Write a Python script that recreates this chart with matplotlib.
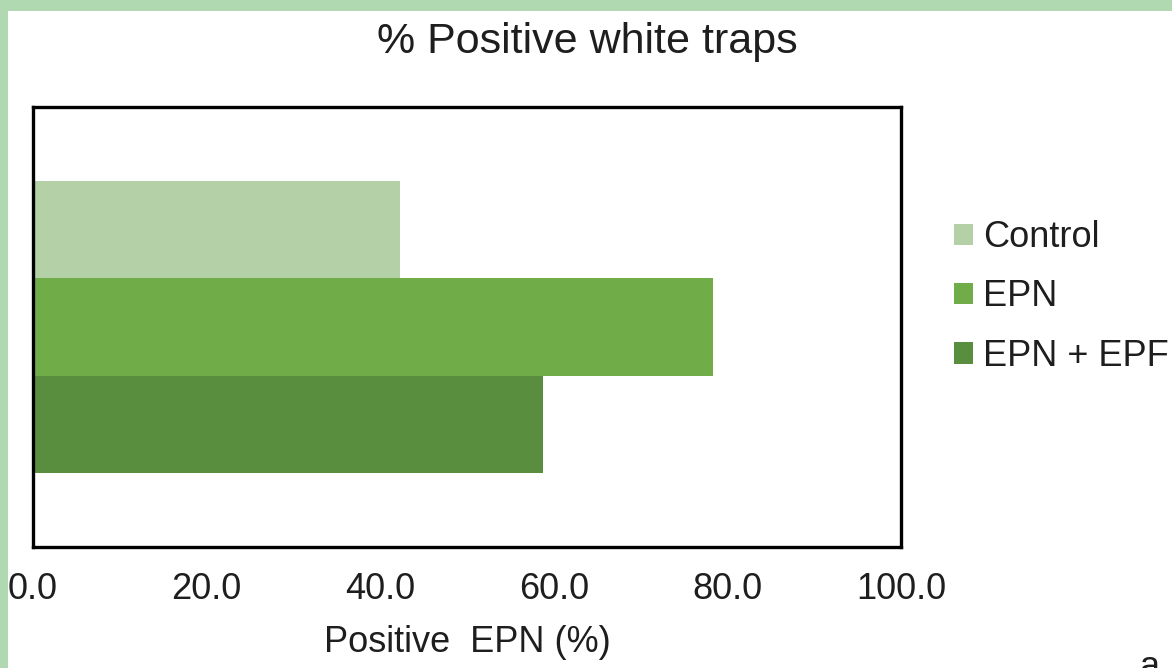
import matplotlib
matplotlib.use("Agg")
import matplotlib.pyplot as plt
from matplotlib.patches import Rectangle, Patch

plt.rcParams['font.family'] = ['Liberation Sans', 'DejaVu Sans']

# Treatments and their share of positive traps (%)
groups = ["Control", "EPN", "EPN + EPF"]
positive_pct = [42.3, 78.3, 58.8]
colors = ["#b4d0a7", "#70ac47", "#588e3d"]
x_ticks = [0, 20, 40, 60, 80, 100]
x_tick_labels = [f"{v:.1f}" for v in x_ticks]

W, H = 1172, 668
fig = plt.figure(figsize=(W / 100, H / 100), dpi=100)
fig.patch.set_facecolor("white")

# light green frame along the top and left edges
frame = "#b1d9b1"
fig.add_artist(Rectangle((0, 0), 8 / W, 1, transform=fig.transFigure,
                         facecolor=frame, edgecolor="none", zorder=0))
fig.add_artist(Rectangle((0, 1 - 11 / H), 1, 11 / H, transform=fig.transFigure,
                         facecolor=frame, edgecolor="none", zorder=0))

ax = fig.add_axes([33 / W, 1 - 547 / H, (901 - 33) / W, (547 - 107) / H])

bar_h = 0.2212
centers = [0.5 + bar_h, 0.5, 0.5 - bar_h]
for g, v, c, y in zip(groups, positive_pct, colors, centers):
    ax.barh(y, v, height=bar_h, color=c, edgecolor="none", label=g)

ax.set_xlim(0, 100)
ax.set_ylim(0, 1)
ax.set_yticks([])
ax.set_xticks(x_ticks)
ax.set_xticklabels(x_tick_labels)
ax.tick_params(axis="x", length=0, pad=18, labelsize=26, colors="#1e1e1e")
for s in ax.spines.values():
    s.set_linewidth(2.4)
    s.set_color("black")

ax.set_xlabel("Positive  EPN (%)", fontsize=26, color="#1e1e1e", labelpad=13)
fig.text(587 / W, 1 - 42 / H, "% Positive white traps", ha="center", va="center",
         fontsize=31, color="#1e1e1e")

handles = [Patch(facecolor=c, edgecolor="none") for c in colors]
fig.legend(handles, groups, loc="center left", bbox_to_anchor=(954 / W, 1 - 297 / H),
           frameon=False, fontsize=26, handlelength=0.53, handleheight=0.53,
           handletextpad=0.28, labelspacing=0.67, borderpad=0, borderaxespad=0,
           labelcolor="#1e1e1e")

fig.text(1150 / W, 1 - 650 / H, "a", ha="center", va="top", fontsize=26, color="#1e1e1e")

fig.savefig("out.png", dpi=100)
